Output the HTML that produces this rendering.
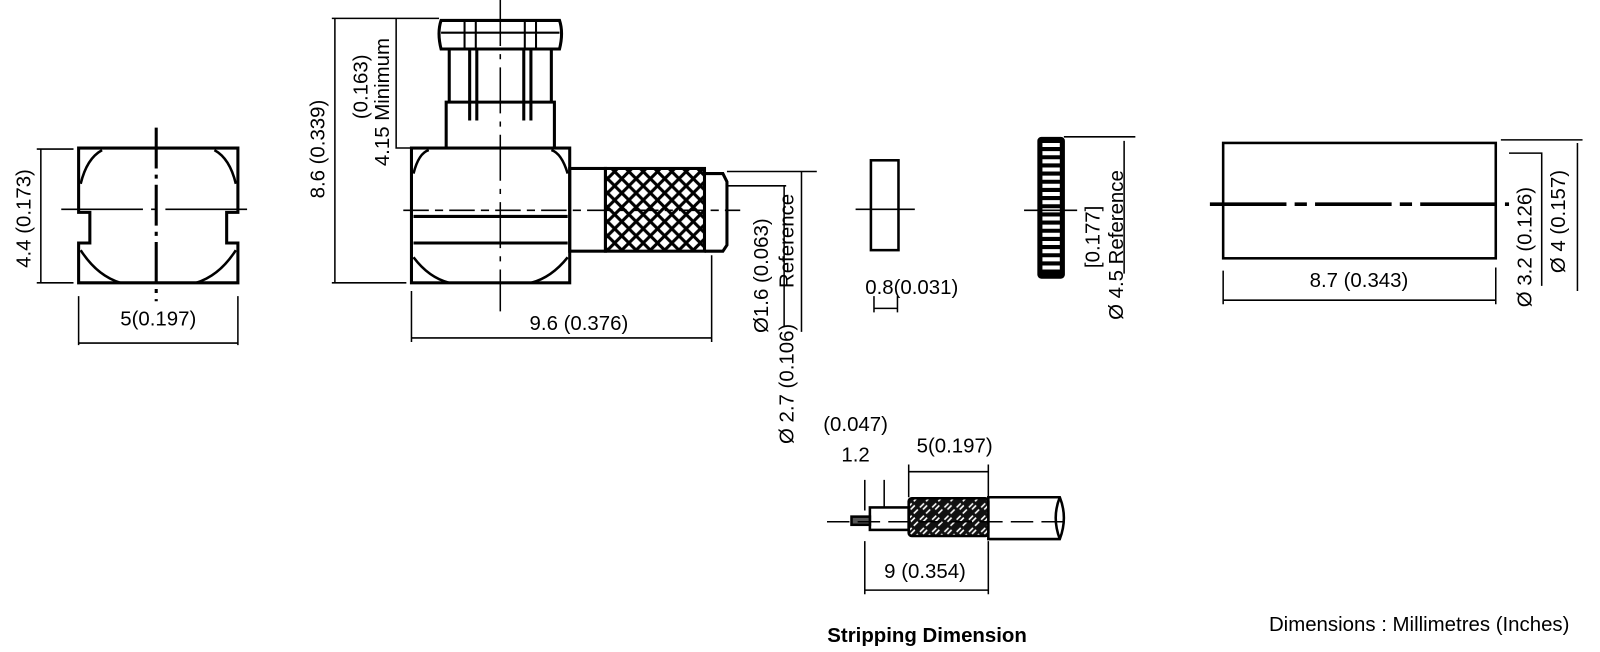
<!DOCTYPE html>
<html><head><style>body{margin:0;background:#fff}svg{display:block}</style></head><body>
<svg width="1600" height="652" viewBox="0 0 1600 652" xmlns="http://www.w3.org/2000/svg" font-family="Liberation Sans, sans-serif" fill="none" stroke="#000">
<defs>
<pattern id="kn" width="14" height="14" patternUnits="userSpaceOnUse"><rect width="14" height="14" fill="#fff" stroke="none"/><path d="M0 0L14 14M14 0L0 14" stroke="#000" stroke-width="3"/></pattern>
<pattern id="br" width="12" height="12" patternUnits="userSpaceOnUse"><rect width="12" height="12" fill="#111" stroke="none"/><path d="M1 5L5 1M4 7L8 3M7 11L11 7" stroke="#fff" stroke-width="1.6"/></pattern>
</defs>
<g transform="scale(1.021)">
<g stroke-width="3">
<path d="M77 145H233V208H222V238H233V277H77V238H88V208H77Z"/>
<path d="M79 180Q85 155 100 147M231 180Q225 155 210 147M79 245Q95 270 118 277M231 245Q215 270 192 277" stroke-width="2.5"/>
</g>
<g stroke-width="1.5">
<path d="M153 125V295" stroke-width="3" stroke-dasharray="40 6 4 6"/>
<path d="M60 205H250" stroke-dasharray="80 8 6 8"/>
<path d="M36 146H72M36 277H72M40 146V277M77 290V338M233 290V338M77 336H233"/>
</g>
<g fill="#000" stroke="none" font-size="20">
<text x="155" y="319" text-anchor="middle">5(0.197)</text>
<text transform="translate(30 214) rotate(-90)" text-anchor="middle">4.4 (0.173)</text>
</g>
<g stroke-width="3">
<rect x="403" y="145" width="155" height="132"/>
<path d="M437 145V100H543V145"/>
<path d="M440 100V48M540 100V48M460 48V118M467 48V118M513 48V118M520 48V118"/>
<path d="M432 20Q428 32 432 48H548Q552 32 548 20Z"/>
<path d="M432 32H548M455 20V48M466 20V48M514 20V48M525 20V48" stroke-width="2"/>
<path d="M405 212H556M405 238H556"/>
<path d="M405 252Q420 272 440 277M556 252Q540 272 520 277M405 170Q410 150 420 147M556 170Q550 150 540 147" stroke-width="2.5"/>
<rect x="558" y="165" width="35" height="81"/>
<rect x="593" y="165" width="97" height="81" fill="url(#kn)"/>
<path d="M690 170H708L712 178V240L708 246H690"/>
</g>
<g stroke-width="1.5">
<path d="M490 0V305" stroke-dasharray="45 8 5 8"/>
<path d="M395 206H725" stroke-dasharray="25 6 8 6"/>
<path d="M325 18H430M388 18V145H437M328 18V277M325 277H398M403 285V335M697 250V335M403 331H697"/>
<path d="M712 168H800M712 182H770M768 182V320M785 168V325"/>
</g>
<g fill="#000" stroke="none" font-size="20">
<text x="567" y="323" text-anchor="middle">9.6 (0.376)</text>
<text transform="translate(318 146) rotate(-90)" text-anchor="middle">8.6 (0.339)</text>
<text transform="translate(381 100) rotate(-90)" text-anchor="middle">4.15 Minimum</text>
<text transform="translate(360 85) rotate(-90)" text-anchor="middle">(0.163)</text>
<text transform="translate(752 270) rotate(-90)" text-anchor="middle">Ø1.6 (0.063)</text>
<text transform="translate(777 236) rotate(-90)" text-anchor="middle">Reference</text>
<text transform="translate(777 376) rotate(-90)" text-anchor="middle">Ø 2.7 (0.106)</text>
</g>
<rect x="853" y="157" width="27" height="88" stroke-width="2.5"/>
<path d="M838 205H896M856 290V306M879 290V306M856 302H879" stroke-width="1.5"/>
<text x="893" y="288" fill="#000" stroke="none" font-size="20" text-anchor="middle">0.8(0.031)</text>
<rect x="1017" y="135" width="25" height="137" rx="3" fill="#000" stroke-width="2"/>
<path d="M1021 142H1038M1021 150H1038M1021 158H1038M1021 166H1038M1021 174H1038M1021 182H1038M1021 190H1038M1021 198H1038M1021 206H1038M1021 214H1038M1021 222H1038M1021 230H1038M1021 238H1038M1021 246H1038M1021 254H1038M1021 262H1038" stroke="#fff" stroke-width="4"/>
<path d="M1003 206H1055M1042 134H1112M1101 138V268" stroke-width="1.5"/>
<g fill="#000" stroke="none" font-size="20">
<text transform="translate(1077 232) rotate(-90)" text-anchor="middle">[0.177]</text>
<text transform="translate(1100 240) rotate(-90)" text-anchor="middle">Ø 4.5 Reference</text>
</g>
<rect x="1198" y="140" width="267" height="113" stroke-width="2.5"/>
<path d="M1185 200H1478" stroke-width="3.5" stroke-dasharray="75 8 12 8"/>
<path d="M1198 265V298M1465 262V298M1198 294H1465M1478 150H1510V280M1470 137H1550M1545 140V285" stroke-width="1.5"/>
<g fill="#000" stroke="none" font-size="20">
<text x="1331" y="281" text-anchor="middle">8.7 (0.343)</text>
<text transform="translate(1500 242) rotate(-90)" text-anchor="middle">Ø 3.2 (0.126)</text>
<text transform="translate(1533 217) rotate(-90)" text-anchor="middle">Ø 4 (0.157)</text>
</g>
<g stroke-width="2.5">
<path d="M968 487H1038Q1046 507 1038 528H968Z"/>
<path d="M1038 487Q1030 507 1038 528"/>
<rect x="890" y="488" width="78" height="37" fill="url(#br)" rx="3"/>
<rect x="852" y="497" width="38" height="22"/>
<rect x="834" y="506" width="18" height="8" fill="#555"/>
</g>
<g stroke-width="1.5">
<path d="M810 511H1050" stroke-dasharray="22 8"/>
<path d="M847 470V500M866 470V498M890 455V487M968 455V487M890 462H968M847 530V582M968 530V582M847 578H968"/>
</g>
<g fill="#000" stroke="none" font-size="20">
<text x="838" y="422" text-anchor="middle">(0.047)</text>
<text x="838" y="452" text-anchor="middle">1.2</text>
<text x="935" y="443" text-anchor="middle">5(0.197)</text>
<text x="906" y="566" text-anchor="middle">9 (0.354)</text>
<text x="908" y="629" text-anchor="middle" font-weight="bold">Stripping Dimension</text>
<text x="1390" y="618" text-anchor="middle">Dimensions : Millimetres (Inches)</text>
</g>
</g>
</svg>
</body></html>
